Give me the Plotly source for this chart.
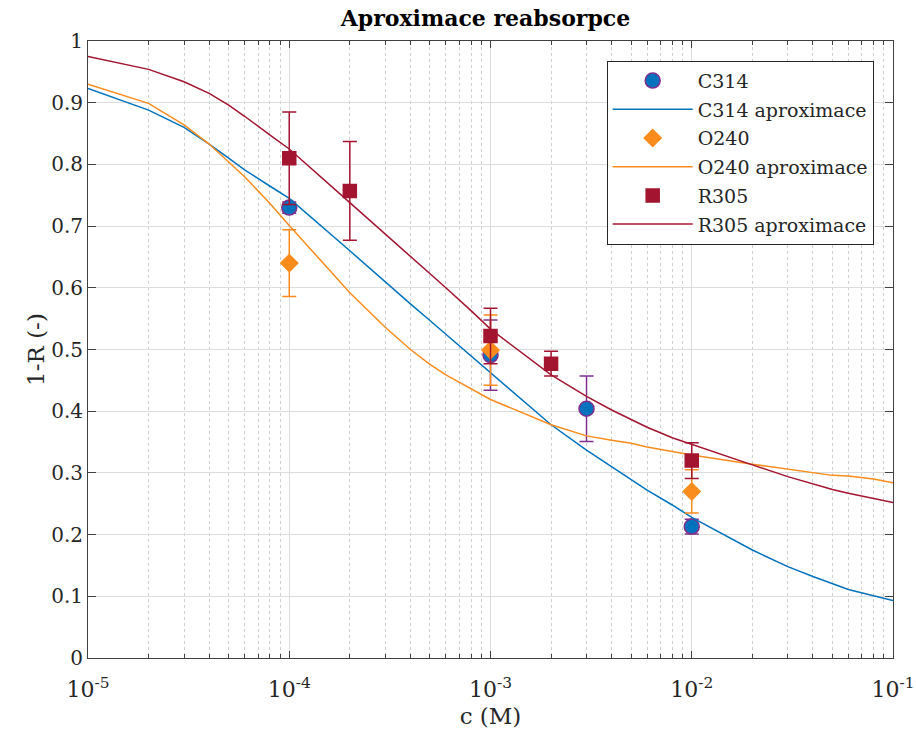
import plotly.graph_objects as go

# --- measured points (concentration in M, 1-R, symmetric error) ---
c314_c = [1e-4, 1e-3, 3e-3, 1e-2]
c314_v = [0.730, 0.491, 0.404, 0.213]
c314_e = [0.009, 0.057, 0.053, 0.012]

o240_c = [1e-4, 1e-3, 1e-2]
o240_v = [0.640, 0.499, 0.270]
o240_e = [0.054, 0.057, 0.035]

r305_c = [1e-4, 2e-4, 1e-3, 2e-3, 1e-2]
r305_v = [0.810, 0.757, 0.522, 0.477, 0.320]
r305_e = [0.075, 0.080, 0.045, 0.020, 0.029]

# --- fitted reabsorption curves ---
fit_c = [1e-5, 2e-5, 3e-5, 4e-5, 5e-5, 6e-5, 8e-5,
         1e-4, 2e-4, 3e-4, 4e-4, 5e-4, 6e-4, 8e-4,
         1e-3, 2e-3, 3e-3, 4e-3, 5e-3, 6e-3, 8e-3,
         1e-2, 2e-2, 3e-2, 4e-2, 5e-2, 6e-2, 8e-2, 1e-1]
c314_fit = [0.923, 0.888, 0.860, 0.833, 0.810, 0.791, 0.765,
            0.745, 0.660, 0.609, 0.574, 0.547, 0.525, 0.490,
            0.463, 0.378, 0.337, 0.310, 0.288, 0.272, 0.248,
            0.228, 0.175, 0.148, 0.132, 0.120, 0.111, 0.101, 0.093]
o240_fit = [0.930, 0.899, 0.864, 0.833, 0.804, 0.780, 0.737,
            0.701, 0.592, 0.536, 0.500, 0.476, 0.459, 0.436,
            0.419, 0.378, 0.360, 0.353, 0.348, 0.342, 0.334,
            0.329, 0.314, 0.306, 0.300, 0.296, 0.295, 0.290, 0.284]
r305_fit = [0.975, 0.954, 0.934, 0.915, 0.896, 0.878, 0.848,
            0.825, 0.738, 0.687, 0.652, 0.623, 0.600, 0.563,
            0.533, 0.459, 0.424, 0.402, 0.386, 0.374, 0.357,
            0.346, 0.313, 0.294, 0.282, 0.273, 0.267, 0.259, 0.252]

# decade ticks and their labels
x_ticks = [1e-5, 1e-4, 1e-3, 1e-2, 1e-1]
x_labels = ["10<sup>-5</sup>", "10<sup>-4</sup>", "10<sup>-3</sup>",
            "10<sup>-2</sup>", "10<sup>-1</sup>"]
x_minor = [d * dec for dec in x_ticks[:-1] for d in range(2, 10)]

BLUE = "#0072BD"
PURPLE = "#7E2F8E"
ORANGE = "#FA8C1E"
RED = "#A2142F"
FONT = "DejaVu Serif"
AX = "#404040"

fig = go.Figure()


def points(name, x, y, e, symbol, size, fill, edge, ecolor):
    fig.add_trace(go.Scatter(
        x=x, y=y, mode="markers", name=name, legendgroup=name,
        marker=dict(symbol=symbol, size=size, color=fill,
                    line=dict(color=edge, width=1.5)),
        error_y=dict(type="data", array=e, visible=True,
                     color=ecolor, thickness=1.5, width=7),
    ))


def curve(name, x, y, color):
    fig.add_trace(go.Scatter(
        x=x, y=y, mode="lines", name=name, legendgroup=name,
        line=dict(color=color, width=1.5),
    ))


points("C314", c314_c, c314_v, c314_e, "circle", 15, BLUE, PURPLE, PURPLE)
curve("C314 aproximace", fit_c, c314_fit, BLUE)
points("O240", o240_c, o240_v, o240_e, "diamond", 13, ORANGE, ORANGE, ORANGE)
curve("O240 aproximace", fit_c, o240_fit, ORANGE)
points("R305", r305_c, r305_v, r305_e, "square", 13, RED, RED, RED)
curve("R305 aproximace", fit_c, r305_fit, RED)

fig.update_layout(
    width=916, height=737,
    margin=dict(l=88, r=23, t=41, b=79, autoexpand=False),
    paper_bgcolor="white", plot_bgcolor="white",
    font=dict(family=FONT, size=20, color="#262626"),
    title=dict(text="<b>Aproximace reabsorpce</b>", x=0.53, xanchor="center",
               y=0.975, yanchor="middle", font=dict(size=22, color="black")),
    showlegend=True,
    legend=dict(x=0.976, xanchor="right", y=0.968, yanchor="top",
                bgcolor="white", bordercolor="#262626", borderwidth=1,
                font=dict(size=19, color="#262626"), tracegroupgap=1,
                itemwidth=80),
)

fig.update_xaxes(
    type="log", range=[-5, -1], automargin=False,
    tickmode="array", tickvals=x_ticks, ticktext=x_labels,
    ticklabelstandoff=12,
    showline=True, linecolor=AX, linewidth=1, mirror="ticks",
    ticks="inside", ticklen=7, tickcolor=AX,
    showgrid=True, gridcolor="#dcdcdc", gridwidth=1,
    minor=dict(tickmode="array", tickvals=x_minor, showgrid=True,
               gridcolor="#cfcfcf", griddash="dot",
               ticks="inside", ticklen=4, tickcolor=AX),
    tickfont=dict(size=22),
    title=dict(text="c (M)", font=dict(size=23), standoff=6),
    zeroline=False,
)
fig.update_yaxes(
    range=[0, 1], dtick=0.1, automargin=False,
    showline=True, linecolor=AX, linewidth=1, mirror="ticks",
    ticks="inside", ticklen=8, tickcolor=AX,
    showgrid=True, gridcolor="#dcdcdc", gridwidth=1,
    tickfont=dict(size=20),
    title=dict(text="1-R (-)", font=dict(size=23), standoff=0),
    zeroline=False,
)

fig.write_html("out.html")
